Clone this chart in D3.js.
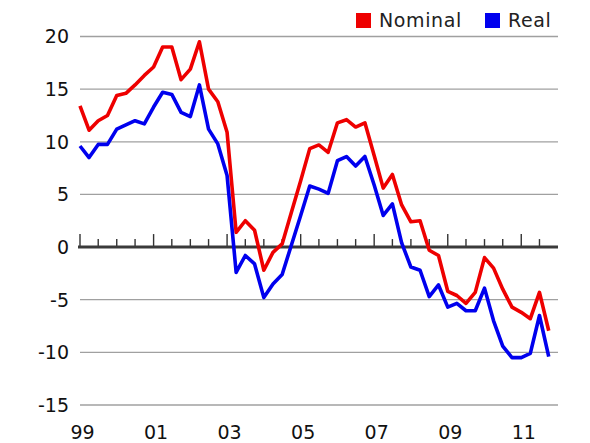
<!DOCTYPE html>
<html>
<head>
<meta charset="utf-8">
<script src="https://cdn.jsdelivr.net/npm/d3@7"></script>
<style>
  body { margin: 0; background: #fff; }
  text { font-family: "DejaVu Sans", Verdana, sans-serif; fill: #111; }
</style>
</head>
<body>
<svg id="chart"></svg>
<script>
// quarterly values, 1999 Q1 .. 2011 Q4
const nominal = [13.4, 11.1, 12.0, 12.5, 14.4, 14.6, 15.4, 16.3, 17.1, 19.0, 19.0, 15.9,
  16.9, 19.5, 15.0, 13.8, 10.9, 1.4, 2.5, 1.6, -2.2, -0.5, 0.3, 3.3,
  6.3, 9.35, 9.7, 9.0, 11.8, 12.1, 11.4, 11.8, 8.7, 5.6, 6.9, 4.0,
  2.4, 2.5, -0.3, -0.8, -4.2, -4.6, -5.35, -4.3, -1.0, -2.0, -4.0, -5.7,
  -6.2, -6.8, -4.3, -7.95];
const real = [9.6, 8.5, 9.75, 9.75, 11.2, 11.6, 12.0, 11.7, 13.3, 14.7, 14.5, 12.8,
  12.4, 15.4, 11.2, 9.8, 6.8, -2.4, -0.8, -1.6, -4.8, -3.5, -2.6, 0.2,
  3.0, 5.8, 5.5, 5.1, 8.2, 8.6, 7.7, 8.6, 5.9, 3.0, 4.1, 0.4,
  -1.9, -2.2, -4.7, -3.6, -5.7, -5.35, -6.05, -6.05, -3.9, -7.0, -9.4, -10.5,
  -10.5, -10.1, -6.5, -10.4];
const quarters = d3.timeMonths(new Date(1999, 0, 1), new Date(2012, 0, 1), 3);
const yTicks = [-15, -10, -5, 0, 5, 10, 15, 20];
const xLabelYears = [1999, 2001, 2003, 2005, 2007, 2009, 2011];
const xLabels = ["99", "01", "03", "05", "07", "09", "11"];
const seriesNames = ["Nominal", "Real"];
const seriesColors = ["#ee0000", "#0000ee"];

const width = 590, height = 443;
const svg = d3.select("#chart").attr("width", width).attr("height", height);

const x = d3.scaleTime()
  .domain([new Date(1999, 0, 1), new Date(2012, 0, 1)])
  .range([80, 558]);
const y = d3.scaleLinear()
  .domain([-15, 20])
  .range([405, 36.5]);

// gridlines + y labels
svg.append("g")
  .selectAll("line")
  .data(yTicks.filter(d => d !== 0))
  .join("line")
    .attr("x1", x.range()[0]).attr("x2", x.range()[1])
    .attr("y1", d => y(d)).attr("y2", d => y(d))
    .attr("stroke", "#a0a0a0")
    .attr("stroke-width", 1.3);

svg.append("g")
  .selectAll("text")
  .data(yTicks)
  .join("text")
    .attr("x", 69)
    .attr("y", d => y(d))
    .attr("dy", "0.36em")
    .attr("text-anchor", "end")
    .style("font-size", "19px")
    .text(d => d);

// zero axis with half-year ticks
const zeroG = svg.append("g");
const halfYears = d3.timeMonths(new Date(1999, 0, 1), new Date(2012, 0, 1), 6);
zeroG.selectAll("line")
  .data(halfYears)
  .join("line")
    .attr("x1", d => x(d)).attr("x2", d => x(d))
    .attr("y1", y(0))
    .attr("y2", d => (d.getMonth() === 0 && d.getFullYear() % 2 === 1) ? y(0) - 13 : y(0) - 8)
    .attr("stroke", "#333")
    .attr("stroke-width", 1.4);
zeroG.append("line")
  .attr("x1", 78).attr("x2", x.range()[1])
  .attr("y1", y(0)).attr("y2", y(0))
  .attr("stroke", "#3a3a3a")
  .attr("stroke-width", 3);

// x labels
svg.append("g")
  .selectAll("text")
  .data(xLabelYears)
  .join("text")
    .attr("x", d => x(new Date(d, 0, 1)) + 2.5)
    .attr("y", 439)
    .attr("text-anchor", "middle")
    .style("font-size", "19px")
    .text((d, i) => xLabels[i]);

// lines
const line = d3.line()
  .x((d, i) => x(quarters[i]))
  .y(d => y(d));

[nominal, real].forEach((s, i) => {
  svg.append("path")
    .datum(s)
    .attr("fill", "none")
    .attr("stroke", seriesColors[i])
    .attr("stroke-width", 3.6)
    .attr("stroke-linejoin", "round")
    .attr("d", line);
});

// legend
const legendX = [356, 485];
const legend = svg.append("g")
  .selectAll("g")
  .data(seriesNames)
  .join("g")
    .attr("transform", (d, i) => `translate(${legendX[i]},13)`);
legend.append("rect")
  .attr("width", 15).attr("height", 15)
  .attr("fill", (d, i) => seriesColors[i]);
legend.append("text")
  .attr("x", 23)
  .attr("y", 14)
  .style("font-size", "19px")
  .style("letter-spacing", "0.6px")
  .style("fill", "#222")
  .text(d => d);
</script>
</body>
</html>
